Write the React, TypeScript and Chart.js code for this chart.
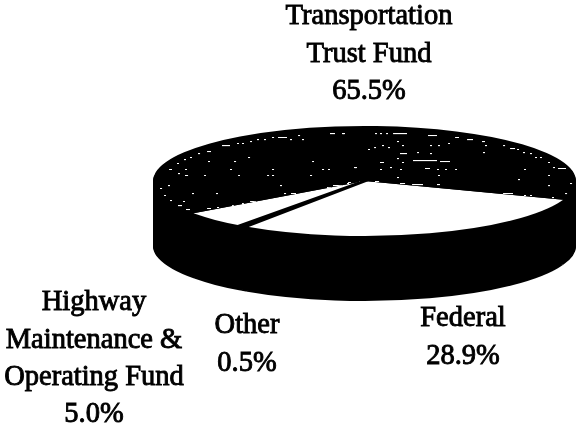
import React, { useEffect, useRef } from "react";
import { Chart, registerables } from "chart.js";

Chart.register(...registerables);

const categories = ["Federal", "Other", "Highway Maintenance & Operating Fund", "Transportation Trust Fund"];
const shares = [28.9, 0.5, 5.0, 65.5];
const topColours = ["#ffffff", "#000000", "#ffffff", "#000000"];
const labelBlocks = [
  { lines: ["Transportation", "Trust Fund", "65.5%"], x: 369, y: 17 },
  { lines: ["Highway", "Maintenance &", "Operating Fund", "5.0%"], x: 94, y: 303 },
  { lines: ["Other", "0.5%"], x: 247, y: 326 },
  { lines: ["Federal", "28.9%"], x: 463, y: 319 },
];
// scanner-noise texture on the dark slice: [x, y, width] on the page
const speckles = [
  [343, 133, 2], [375, 133, 2], [380, 133, 2], [386, 133, 2], [393, 133, 14], [428, 135, 9], [455, 137, 4], [467, 139, 6],
  [482, 141, 3], [485, 145, 2], [503, 145, 2], [510, 148, 5], [517, 149, 2], [523, 152, 2], [530, 153, 2], [535, 157, 2],
  [540, 157, 2], [548, 162, 2], [558, 168, 8], [553, 167, 2], [368, 149, 2], [374, 147, 2], [382, 145, 2], [388, 147, 2],
  [397, 141, 2], [402, 145, 2], [430, 145, 2], [438, 145, 2], [448, 143, 2], [483, 152, 2], [400, 153, 7], [417, 152, 2],
  [430, 153, 2], [397, 158, 2], [402, 162, 2], [380, 162, 4], [413, 160, 24], [440, 161, 10], [355, 167, 2], [380, 169, 2],
  [390, 167, 2], [400, 169, 2], [425, 168, 5], [437, 169, 2], [445, 169, 2], [455, 169, 2], [397, 177, 2], [438, 175, 2],
  [518, 179, 2], [524, 169, 2], [548, 175, 2], [548, 185, 2], [412, 184, 11], [400, 183, 5], [375, 181, 4], [359, 181, 4],
  [347, 183, 2], [437, 184, 3], [503, 193, 10], [524, 195, 2], [530, 195, 2], [552, 197, 2], [565, 193, 2], [570, 183, 2],
  [160, 188, 2], [168, 185, 2], [169, 169, 3], [178, 173, 2], [185, 175, 3], [185, 169, 2], [177, 163, 2], [184, 159, 2],
  [190, 157, 2], [198, 153, 2], [207, 151, 4], [208, 161, 2], [204, 175, 2], [222, 145, 8], [237, 143, 2], [242, 143, 2],
  [250, 141, 2], [257, 139, 2], [264, 139, 2], [272, 137, 2], [278, 137, 9], [290, 139, 2], [298, 135, 2], [302, 139, 2],
  [330, 133, 5], [342, 133, 2], [234, 161, 2], [248, 157, 2], [230, 169, 2], [238, 175, 2], [267, 175, 2], [272, 169, 2],
  [272, 175, 2], [312, 161, 2], [310, 175, 2], [322, 169, 2], [328, 169, 2], [354, 167, 2], [280, 185, 2], [192, 193, 2],
  [216, 193, 2], [284, 193, 2], [291, 193, 5], [183, 201, 2], [242, 203, 2], [217, 207, 2], [232, 205, 2], [250, 201, 6],
  [207, 208, 4], [327, 187, 4], [333, 185, 9], [348, 182, 3], [164, 195, 2], [170, 200, 2], [178, 205, 4], [186, 209, 4],
];

const SQUASH = 0.26;
const TOP_CENTRE_Y = 181;
const CHART_CENTRE_Y = 215;
const DEPTH = 65;

const pie3d = {
  id: "pie3d",
  beforeDatasetsDraw(chart: any) {
    const { ctx } = chart;
    const arcs = chart.getDatasetMeta(0).data;
    const cy = arcs[0].y;
    const place = (dy: number) => {
      ctx.translate(0, TOP_CENTRE_Y + dy);
      ctx.scale(1, SQUASH);
      ctx.translate(0, -cy);
    };
    for (let dy = DEPTH; dy > 0; dy--) {
      ctx.save();
      place(dy);
      arcs.forEach((arc: any) => {
        const saved = arc.options;
        arc.options = { ...saved, backgroundColor: "#000000", borderWidth: 0 };
        arc.draw(ctx);
        arc.options = saved;
      });
      ctx.restore();
    }
    ctx.save();
    place(0);
  },
  afterDatasetsDraw(chart: any) {
    const { ctx } = chart;
    // the thin "Other" slice is drawn again on top, with its heavy dark outline
    const other = chart.getDatasetMeta(0).data[1];
    const saved = other.options;
    other.options = { ...saved, backgroundColor: "#000000", borderColor: "#000000", borderWidth: 7, borderJoinStyle: "round" };
    other.draw(ctx);
    other.options = saved;
    ctx.restore();
  },
  afterDraw(chart: any) {
    const { ctx } = chart;
    ctx.save();
    ctx.fillStyle = "#000000";
    ctx.strokeStyle = "#000000";
    ctx.lineWidth = 0.9;
    ctx.font = '28.5px "Liberation Serif"';
    ctx.textAlign = "center";
    ctx.textBaseline = "middle";
    labelBlocks.forEach((b) => {
      b.lines.forEach((line, i) => {
        ctx.fillText(line, b.x, b.y + i * 37.3);
        ctx.strokeText(line, b.x, b.y + i * 37.3);
      });
    });
    ctx.restore();
  },
};

export default function App() {
  const ref = useRef<HTMLCanvasElement | null>(null);
  useEffect(() => {
    const canvas = ref.current!;
    const tile = document.createElement("canvas");
    tile.width = 577;
    tile.height = 430;
    const t = tile.getContext("2d")!;
    t.fillStyle = "#000000";
    t.fillRect(0, 0, 577, 430);
    t.fillStyle = "#ffffff";
    speckles.forEach(([sx, sy, w]) =>
      t.fillRect(sx, CHART_CENTRE_Y + (sy - TOP_CENTRE_Y) / SQUASH, w, 1.3 / SQUASH),
    );
    const speckled = canvas.getContext("2d")!.createPattern(tile, "repeat");
    const colours = topColours.map((c, i) => (i === 3 ? speckled : c));

    const chart = new Chart(canvas, {
      type: "pie",
      data: {
        labels: categories,
        datasets: [{ data: shares, backgroundColor: colours as any, borderWidth: 0 }],
      },
      options: {
        responsive: false,
        animation: false,
        rotation: 110,
        layout: { padding: { left: 153, right: 1, top: 3.5, bottom: 3.5 } },
        plugins: { legend: { display: false }, tooltip: { enabled: false } },
      },
      plugins: [pie3d],
    } as any);
    return () => chart.destroy();
  }, []);
  return (
    <div style={{ position: "absolute", left: 0, top: 0, width: 577, height: 430, background: "#ffffff" }}>
      <canvas ref={ref} width={577} height={430} style={{ display: "block" }} />
    </div>
  );
}
